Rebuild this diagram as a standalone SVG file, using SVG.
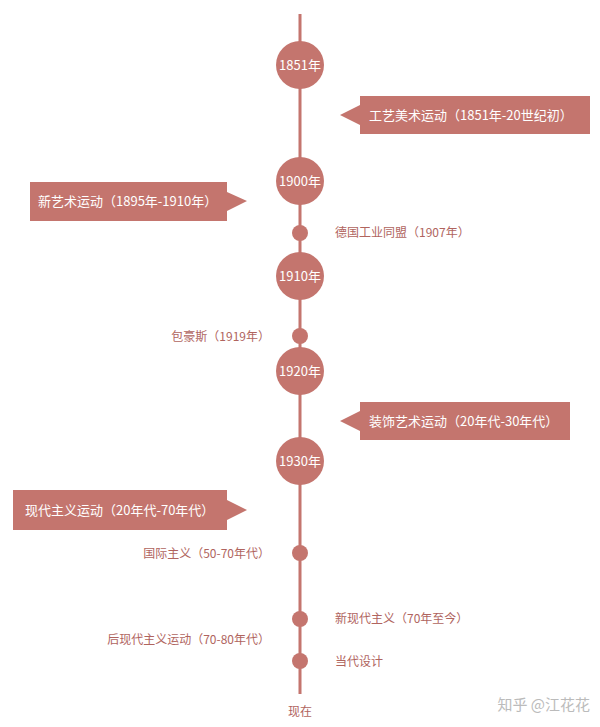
<svg xmlns="http://www.w3.org/2000/svg" width="600" height="727" viewBox="0 0 600 727">
<style>
text{font-family:"Noto Sans CJK SC","Noto Sans",sans-serif;}
.big{fill:#c4756e;}
.yr{fill:#fff;font-size:13px;text-anchor:middle;}
.box{fill:#c4756e;}
.bt{fill:#fff;font-size:13px;}
.lb{fill:#b0645e;font-size:12px;}
</style>
<rect width="600" height="727" fill="#fff"/>
<g id="connectors"><line x1="300" y1="14" x2="300" y2="694" stroke="#c4756e" stroke-width="3"/></g>
<g id="n1851"><circle class="big" cx="300" cy="65" r="24"/><text class="yr" x="300" y="70">1851年</text></g>
<g id="n1900"><circle class="big" cx="300" cy="181" r="24"/><text class="yr" x="300" y="186">1900年</text></g>
<g id="n1910"><circle class="big" cx="300" cy="276" r="24"/><text class="yr" x="300" y="281">1910年</text></g>
<g id="n1920"><circle class="big" cx="300" cy="371" r="24"/><text class="yr" x="300" y="376">1920年</text></g>
<g id="n1930"><circle class="big" cx="300" cy="461" r="24"/><text class="yr" x="300" y="466">1930年</text></g>
<g id="c1"><path class="box" d="M360,96H590V134H360V125L340,115L360,105Z"/><text class="bt" x="369" y="120">工艺美术运动（1851年-20世纪初）</text></g>
<g id="c2"><path class="box" d="M30,182H227V192L247,201L227,211V221H30Z"/><text class="bt" x="38" y="206">新艺术运动（1895年-1910年）</text></g>
<g id="c3"><path class="box" d="M360,402H570V440H360V431L340,421L360,411Z"/><text class="bt" x="369" y="426">装饰艺术运动（20年代-30年代）</text></g>
<g id="c4"><path class="box" d="M13,490H227V500L247,510L227,520V530H13Z"/><text class="bt" x="25" y="515">现代主义运动（20年代-70年代）</text></g>
<g id="s1"><circle class="big" cx="300" cy="233" r="8"/><text class="lb" x="335" y="237">德国工业同盟（1907年）</text></g>
<g id="s2"><circle class="big" cx="300" cy="336" r="8"/><text class="lb" x="270" y="341" text-anchor="end">包豪斯（1919年）</text></g>
<g id="s3"><circle class="big" cx="300" cy="553" r="8"/><text class="lb" x="270" y="558" text-anchor="end">国际主义（50-70年代）</text></g>
<g id="s4"><circle class="big" cx="300" cy="619" r="8"/><text class="lb" x="335" y="623">新现代主义（70年至今）</text></g>
<text class="lb" x="270" y="644" text-anchor="end">后现代主义运动（70-80年代）</text>
<g id="s5"><circle class="big" cx="300" cy="661" r="8"/><text class="lb" x="335" y="666">当代设计</text></g>
<text class="lb" x="300" y="716" text-anchor="middle">现在</text>
<text x="590" y="710" text-anchor="end" font-size="15" fill="#bbb">知乎 @江花花</text>
</svg>
